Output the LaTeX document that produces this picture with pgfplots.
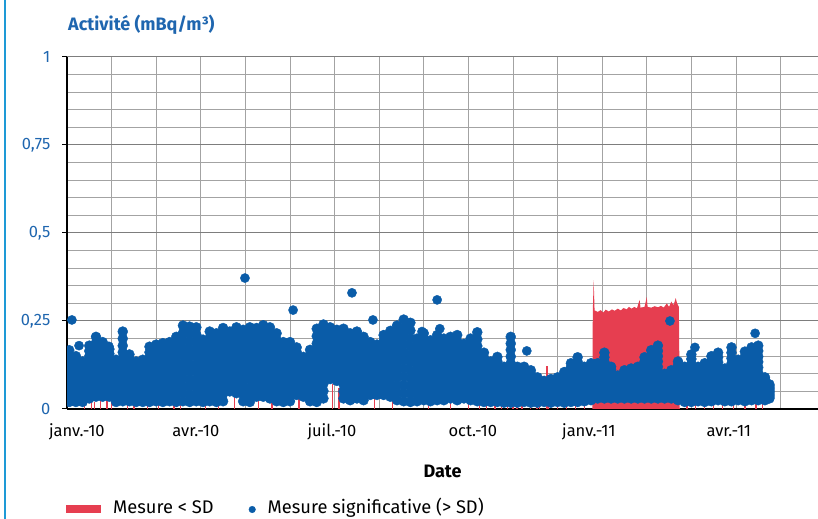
\documentclass[border=0pt]{standalone}
\usepackage{fontspec}
\setmainfont{Fira Sans}
\usepackage{pgfplots}
\usepackage{pgfplotstable}
\pgfplotsset{compat=1.18}

\definecolor{dotblue}{HTML}{0A5CA8}
\definecolor{sdred}{HTML}{E63E50}
\definecolor{txtblue}{HTML}{1F66AF}
\definecolor{edgeblue}{HTML}{1E9AD6}
\definecolor{gridminor}{HTML}{A3A3A3}
\definecolor{gridmajor}{HTML}{7D7D7D}

% x in months from 1 Jan 2010; each row = dense cloud of significant measurements
\pgfplotstableread{
x a b c d e f g h i j k
0.05 0.167 0.152 0.138 0.123 0.108 0.094 0.079 0.064 0.049 0.035 0.020
0.20 0.150 0.137 0.124 0.111 0.098 0.085 0.072 0.059 0.046 0.033 0.020
0.35 0.135 0.124 0.112 0.101 0.089 0.078 0.066 0.055 0.043 0.032 0.020
0.50 0.180 0.165 0.150 0.135 0.120 0.105 0.090 0.075 0.060 0.045 0.030
0.65 0.205 0.188 0.171 0.154 0.137 0.120 0.103 0.086 0.069 0.052 0.035
0.80 0.190 0.175 0.159 0.144 0.128 0.113 0.097 0.082 0.066 0.051 0.035
0.95 0.170 0.157 0.143 0.130 0.116 0.103 0.089 0.076 0.062 0.049 0.035
1.10 0.140 0.128 0.116 0.104 0.092 0.080 0.068 0.056 0.044 0.032 0.020
1.25 0.220 0.200 0.180 0.161 0.141 0.121 0.101 0.081 0.062 0.042 0.022
1.40 0.155 0.142 0.128 0.115 0.102 0.089 0.075 0.062 0.049 0.035 0.022
1.55 0.135 0.124 0.112 0.101 0.089 0.078 0.066 0.055 0.043 0.032 0.020
1.70 0.140 0.128 0.116 0.104 0.092 0.080 0.068 0.056 0.044 0.032 0.020
1.85 0.177 0.161 0.146 0.130 0.114 0.099 0.083 0.067 0.051 0.036 0.020
2.00 0.183 0.167 0.151 0.135 0.119 0.103 0.086 0.070 0.054 0.038 0.022
2.15 0.187 0.170 0.153 0.137 0.120 0.104 0.087 0.070 0.054 0.037 0.020
2.30 0.190 0.173 0.156 0.140 0.123 0.106 0.089 0.072 0.056 0.039 0.022
2.45 0.205 0.187 0.168 0.150 0.131 0.113 0.094 0.076 0.057 0.039 0.020
2.60 0.237 0.216 0.194 0.173 0.151 0.130 0.108 0.087 0.065 0.044 0.022
2.75 0.234 0.213 0.191 0.170 0.148 0.127 0.106 0.084 0.063 0.041 0.020
2.90 0.232 0.211 0.190 0.169 0.148 0.127 0.106 0.085 0.064 0.043 0.022
3.05 0.197 0.179 0.162 0.144 0.126 0.109 0.091 0.073 0.055 0.038 0.020
3.20 0.220 0.200 0.180 0.161 0.141 0.121 0.101 0.081 0.062 0.042 0.022
3.35 0.215 0.196 0.176 0.157 0.137 0.118 0.098 0.079 0.059 0.040 0.020
3.50 0.230 0.209 0.188 0.168 0.147 0.126 0.105 0.084 0.064 0.043 0.022
3.65 0.220 0.203 0.186 0.169 0.152 0.135 0.118 0.101 0.084 0.067 0.050
3.80 0.232 0.213 0.195 0.176 0.157 0.139 0.120 0.101 0.082 0.064 0.045
3.95 0.225 0.205 0.184 0.164 0.144 0.124 0.103 0.083 0.063 0.042 0.022
4.10 0.232 0.211 0.190 0.168 0.147 0.126 0.105 0.084 0.062 0.041 0.020
4.25 0.230 0.211 0.191 0.172 0.152 0.133 0.113 0.094 0.074 0.055 0.035
4.40 0.238 0.218 0.197 0.177 0.157 0.137 0.116 0.096 0.076 0.055 0.035
4.55 0.232 0.212 0.192 0.171 0.151 0.131 0.111 0.091 0.070 0.050 0.030
4.70 0.215 0.196 0.176 0.157 0.138 0.119 0.099 0.080 0.061 0.041 0.022
4.85 0.190 0.173 0.156 0.139 0.122 0.105 0.088 0.071 0.054 0.037 0.020
5.00 0.190 0.173 0.156 0.140 0.123 0.106 0.089 0.072 0.056 0.039 0.022
5.15 0.175 0.162 0.148 0.135 0.121 0.108 0.094 0.081 0.067 0.054 0.040
5.30 0.148 0.137 0.125 0.114 0.103 0.092 0.080 0.069 0.058 0.046 0.035
5.45 0.168 0.153 0.139 0.124 0.110 0.095 0.080 0.066 0.051 0.037 0.022
5.60 0.228 0.207 0.186 0.166 0.145 0.124 0.103 0.082 0.062 0.041 0.020
5.75 0.240 0.219 0.198 0.177 0.156 0.135 0.114 0.093 0.072 0.051 0.030
5.90 0.232 0.217 0.203 0.188 0.173 0.159 0.144 0.129 0.114 0.100 0.085
6.05 0.225 0.211 0.196 0.182 0.167 0.153 0.138 0.124 0.109 0.095 0.080
6.20 0.228 0.208 0.188 0.169 0.149 0.129 0.109 0.089 0.070 0.050 0.030
6.35 0.215 0.196 0.177 0.158 0.139 0.120 0.101 0.082 0.063 0.044 0.025
6.50 0.220 0.201 0.182 0.163 0.144 0.125 0.106 0.087 0.068 0.049 0.030
6.65 0.205 0.187 0.169 0.151 0.133 0.115 0.097 0.079 0.061 0.043 0.025
6.80 0.190 0.175 0.160 0.145 0.130 0.115 0.100 0.085 0.070 0.055 0.040
6.95 0.183 0.169 0.154 0.140 0.126 0.112 0.097 0.083 0.069 0.054 0.040
7.10 0.210 0.193 0.176 0.159 0.142 0.125 0.108 0.091 0.074 0.057 0.040
7.25 0.222 0.203 0.185 0.166 0.147 0.129 0.110 0.091 0.072 0.054 0.035
7.40 0.237 0.216 0.195 0.173 0.152 0.131 0.110 0.089 0.067 0.046 0.025
7.55 0.254 0.231 0.208 0.184 0.161 0.138 0.115 0.092 0.068 0.045 0.022
7.70 0.245 0.223 0.200 0.178 0.155 0.133 0.110 0.088 0.065 0.043 0.020
7.85 0.200 0.182 0.164 0.147 0.129 0.111 0.093 0.075 0.058 0.040 0.022
8.00 0.215 0.196 0.177 0.158 0.139 0.120 0.101 0.082 0.063 0.044 0.025
8.15 0.195 0.178 0.160 0.143 0.126 0.109 0.091 0.074 0.057 0.039 0.022
8.30 0.210 0.192 0.173 0.155 0.136 0.118 0.099 0.081 0.062 0.044 0.025
8.45 0.200 0.183 0.165 0.148 0.130 0.113 0.095 0.078 0.060 0.043 0.025
8.60 0.205 0.188 0.170 0.153 0.135 0.118 0.100 0.083 0.065 0.048 0.030
8.75 0.210 0.192 0.173 0.155 0.136 0.118 0.099 0.081 0.062 0.044 0.025
8.90 0.185 0.170 0.154 0.139 0.123 0.108 0.092 0.077 0.061 0.046 0.030
9.05 0.200 0.183 0.165 0.148 0.130 0.113 0.095 0.078 0.060 0.043 0.025
9.20 0.218 0.198 0.179 0.159 0.140 0.120 0.100 0.081 0.061 0.042 0.022
9.35 0.160 0.146 0.132 0.118 0.104 0.090 0.076 0.062 0.048 0.034 0.020
9.50 0.135 0.124 0.112 0.101 0.089 0.078 0.066 0.055 0.043 0.032 0.020
9.65 0.148 0.135 0.122 0.110 0.097 0.084 0.071 0.058 0.046 0.033 0.020
9.80 0.120 0.110 0.100 0.089 0.079 0.069 0.059 0.049 0.038 0.028 0.018
9.95 0.205 0.186 0.168 0.149 0.130 0.112 0.093 0.074 0.055 0.037 0.018
10.10 0.120 0.110 0.100 0.089 0.079 0.069 0.059 0.049 0.038 0.028 0.018
10.25 0.120 0.110 0.100 0.090 0.080 0.070 0.060 0.050 0.040 0.030 0.020
10.40 0.110 0.101 0.092 0.082 0.073 0.064 0.055 0.046 0.036 0.027 0.018
10.55 0.090 0.083 0.076 0.068 0.061 0.054 0.047 0.040 0.032 0.025 0.018
10.70 0.080 0.074 0.068 0.062 0.056 0.050 0.044 0.038 0.032 0.026 0.020
10.85 0.085 0.078 0.071 0.065 0.058 0.052 0.045 0.038 0.031 0.025 0.018
11.00 0.090 0.083 0.076 0.069 0.062 0.055 0.048 0.041 0.034 0.027 0.020
11.15 0.105 0.096 0.088 0.079 0.070 0.062 0.053 0.044 0.035 0.027 0.018
11.30 0.130 0.119 0.108 0.097 0.086 0.075 0.064 0.053 0.042 0.031 0.020
11.45 0.147 0.134 0.122 0.109 0.096 0.084 0.071 0.058 0.045 0.033 0.020
11.60 0.120 0.110 0.100 0.091 0.081 0.071 0.061 0.051 0.042 0.032 0.022
11.75 0.130 0.120 0.109 0.099 0.088 0.078 0.067 0.057 0.046 0.036 0.025
11.90 0.130 0.120 0.110 0.100 0.090 0.080 0.070 0.060 0.050 0.040 0.030
12.05 0.160 0.147 0.134 0.121 0.108 0.095 0.082 0.069 0.056 0.043 0.030
12.20 0.120 0.111 0.102 0.093 0.084 0.075 0.066 0.057 0.048 0.039 0.030
12.35 0.095 0.089 0.082 0.076 0.069 0.063 0.056 0.050 0.043 0.037 0.030
12.50 0.110 0.102 0.094 0.086 0.078 0.070 0.062 0.054 0.046 0.038 0.030
12.65 0.115 0.107 0.098 0.090 0.081 0.073 0.064 0.056 0.047 0.039 0.030
12.80 0.120 0.111 0.102 0.093 0.084 0.075 0.066 0.057 0.048 0.039 0.030
12.95 0.147 0.135 0.123 0.112 0.100 0.089 0.077 0.065 0.053 0.042 0.030
13.10 0.167 0.153 0.140 0.126 0.112 0.099 0.085 0.071 0.057 0.044 0.030
13.25 0.180 0.165 0.150 0.135 0.120 0.105 0.090 0.075 0.060 0.045 0.030
13.40 0.100 0.093 0.086 0.079 0.072 0.065 0.058 0.051 0.044 0.037 0.030
13.55 0.110 0.102 0.094 0.086 0.078 0.070 0.062 0.054 0.046 0.038 0.030
13.70 0.135 0.124 0.113 0.102 0.091 0.080 0.069 0.058 0.047 0.036 0.025
13.85 0.120 0.110 0.100 0.090 0.080 0.070 0.060 0.050 0.040 0.030 0.020
14.00 0.155 0.142 0.128 0.115 0.101 0.088 0.074 0.061 0.047 0.034 0.020
14.15 0.120 0.110 0.100 0.091 0.081 0.071 0.061 0.051 0.042 0.032 0.022
14.30 0.130 0.119 0.108 0.097 0.086 0.075 0.064 0.053 0.042 0.031 0.020
14.45 0.150 0.137 0.124 0.112 0.099 0.086 0.073 0.060 0.048 0.035 0.022
14.60 0.160 0.147 0.133 0.120 0.106 0.093 0.079 0.066 0.052 0.039 0.025
14.75 0.115 0.106 0.096 0.087 0.078 0.069 0.059 0.050 0.041 0.031 0.022
14.90 0.175 0.160 0.144 0.129 0.114 0.099 0.083 0.068 0.053 0.037 0.022
15.05 0.140 0.129 0.117 0.106 0.094 0.083 0.071 0.060 0.048 0.037 0.025
15.20 0.163 0.149 0.135 0.120 0.106 0.093 0.078 0.064 0.050 0.036 0.022
15.35 0.175 0.160 0.145 0.130 0.115 0.100 0.085 0.070 0.055 0.040 0.025
15.50 0.180 0.165 0.149 0.134 0.118 0.103 0.087 0.072 0.056 0.041 0.025
15.65 0.090 0.084 0.077 0.071 0.064 0.058 0.051 0.045 0.038 0.032 0.025
15.75 0.070 0.066 0.062 0.058 0.054 0.050 0.046 0.042 0.038 0.034 0.030
}\cloud

\begin{document}
\fontsize{16.5bp}{19bp}\selectfont
\begin{tikzpicture}
\useasboundingbox (0,0) rectangle (818bp,519bp);
\draw[edgeblue, line width=2.6bp] (5bp,0) -- (5bp,519bp);
\begin{axis}[
  at={(67bp,110bp)}, anchor=south west,
  scale only axis, width=751bp, height=352bp,
  xmin=0, xmax=16.84, ymin=0, ymax=1,
  axis x line=bottom, axis y line=left,
  axis line style={-},
  x axis line style={line width=2.4bp},
  y axis line style={line width=1.2bp},
  xtick={0.22,2.89,5.94,9.10,11.70,14.84},
  xticklabels={janv.-10,avr.-10,juil.-10,oct.-10,janv.-11,avr.-11},
  minor xtick={1,2,3,4,5,6,7,8,9,10,11,12,13,14,15,16},
  xmajorgrids=false, xminorgrids=true,
  x tick style={draw=none},
  ytick={0,0.25,0.5,0.75,1},
  yticklabels={0,{0,25},{0,5},{0,75},1},
  minor ytick={0.05,0.1,0.15,0.2,0.3,0.35,0.4,0.45,0.55,0.6,0.65,0.7,0.8,0.85,0.9,0.95},
  ymajorgrids=true, yminorgrids=true,
  major grid style={gridmajor, line width=1bp},
  minor grid style={gridminor, line width=0.9bp},
  tick align=outside, major tick length=5bp, minor tick length=0pt,
  y tick style={black, line width=1bp},
  yticklabel style={txtblue, xshift=-6bp},
  xticklabel style={black, anchor=base, yshift=-22bp},
  xlabel={Date}, ylabel={Activité (mBq/m³)},
  every axis x label/.style={at={(rel axis cs:0.5,0)}, anchor=base, yshift=-68bp,
    font=\fontsize{18bp}{21bp}\selectfont\bfseries},
  every axis y label/.style={at={(rel axis cs:0,1)}, anchor=base west, inner sep=0pt,
    xshift=1bp, yshift=26bp, font=\fontsize{18bp}{21bp}\selectfont\bfseries, text=txtblue},
  clip marker paths=true,
  legend columns=2,
  legend style={at={(rel axis cs:0,0)}, anchor=west, xshift=-1bp, yshift=-98bp,
    draw=none, fill=none, inner sep=0pt, font=\fontsize{18.3bp}{21bp}\selectfont,
    nodes={inner sep=0pt, anchor=base west},
    /tikz/every odd column/.append style={column sep=12bp},
    /tikz/every even column/.append style={column sep=35bp}},
]
% Mesure < SD
\addplot[fill=sdred, draw=none,
  legend image code/.code={\fill[sdred] (0bp,0bp) rectangle (35bp,8bp);}]
  coordinates {
  (11.78,0) (11.79,0.275) (11.81,0.366) (11.83,0.280) (11.90,0.276) (11.97,0.281)
  (12.02,0.274) (12.08,0.282) (12.15,0.277) (12.22,0.283) (12.28,0.279) (12.35,0.285)
  (12.42,0.280) (12.48,0.287) (12.55,0.283) (12.60,0.290) (12.66,0.285) (12.72,0.290)
  (12.78,0.286) (12.84,0.310) (12.86,0.288) (12.95,0.290) (13.00,0.318) (13.02,0.290)
  (13.10,0.288) (13.18,0.292) (13.25,0.289) (13.32,0.293) (13.38,0.288) (13.45,0.300)
  (13.50,0.290) (13.55,0.305) (13.60,0.295) (13.65,0.315) (13.68,0.300) (13.72,0.290)
  (13.74,0)
  } \closedcycle;
\addlegendentry{Mesure < SD}
\addplot[ycomb, sdred, line width=1.3bp, forget plot] coordinates {
  (0.40,0.025) (0.55,0.030) (0.62,0.020) (0.75,0.032) (0.90,0.028) (1.00,0.020)
  (1.35,0.022) (1.50,0.018) (1.80,0.025) (2.05,0.020) (2.40,0.030) (2.55,0.018)
  (3.10,0.025) (3.40,0.020) (3.75,0.040) (4.30,0.030) (4.60,0.028) (5.20,0.035)
  (5.95,0.070) (6.10,0.060) (6.90,0.035) (7.30,0.030) (8.10,0.022) (8.60,0.025)
  (9.00,0.020) (9.25,0.028) (9.40,0.022) (9.60,0.030) (9.75,0.020) (9.87,0.125)
  (10.00,0.025) (10.09,0.120) (10.20,0.022) (10.40,0.030) (10.54,0.100) (10.60,0.025)
  (10.76,0.122) (10.80,0.020) (11.00,0.028) (11.20,0.022) (11.40,0.030) (11.60,0.025)
  (13.90,0.030) (14.10,0.025) (14.30,0.035) (14.50,0.028) (14.70,0.030) (14.95,0.025)
  (15.20,0.030) (15.45,0.022) (15.60,0.028)
};
% Mesure significative (> SD)
\pgfplotsinvokeforeach{a,b,c,d,e,f,g,h,i,j,k}{
  \addplot[dotblue, only marks, mark=*, mark size=5bp, mark options={draw=dotblue, fill=dotblue}, forget plot]
    table[x=x, y=#1]{\cloud};
}
\addplot[dotblue, only marks, mark=*, mark size=4.6bp, mark options={draw=dotblue, fill=dotblue},
  legend image code/.code={\fill[dotblue] (3.5bp,4bp) circle (3.3bp);}]
  coordinates {
  (0.11,0.253) (0.27,0.180) (0.94,0.178) (3.99,0.372) (5.07,0.281) (6.39,0.330)
  (6.86,0.253) (7.96,0.220) (8.30,0.310) (8.36,0.228) (10.31,0.165) (13.52,0.250)
  (14.08,0.175) (15.43,0.215)
  };
\addlegendentry{Mesure significative (> SD)}
\end{axis}
\end{tikzpicture}
\end{document}
